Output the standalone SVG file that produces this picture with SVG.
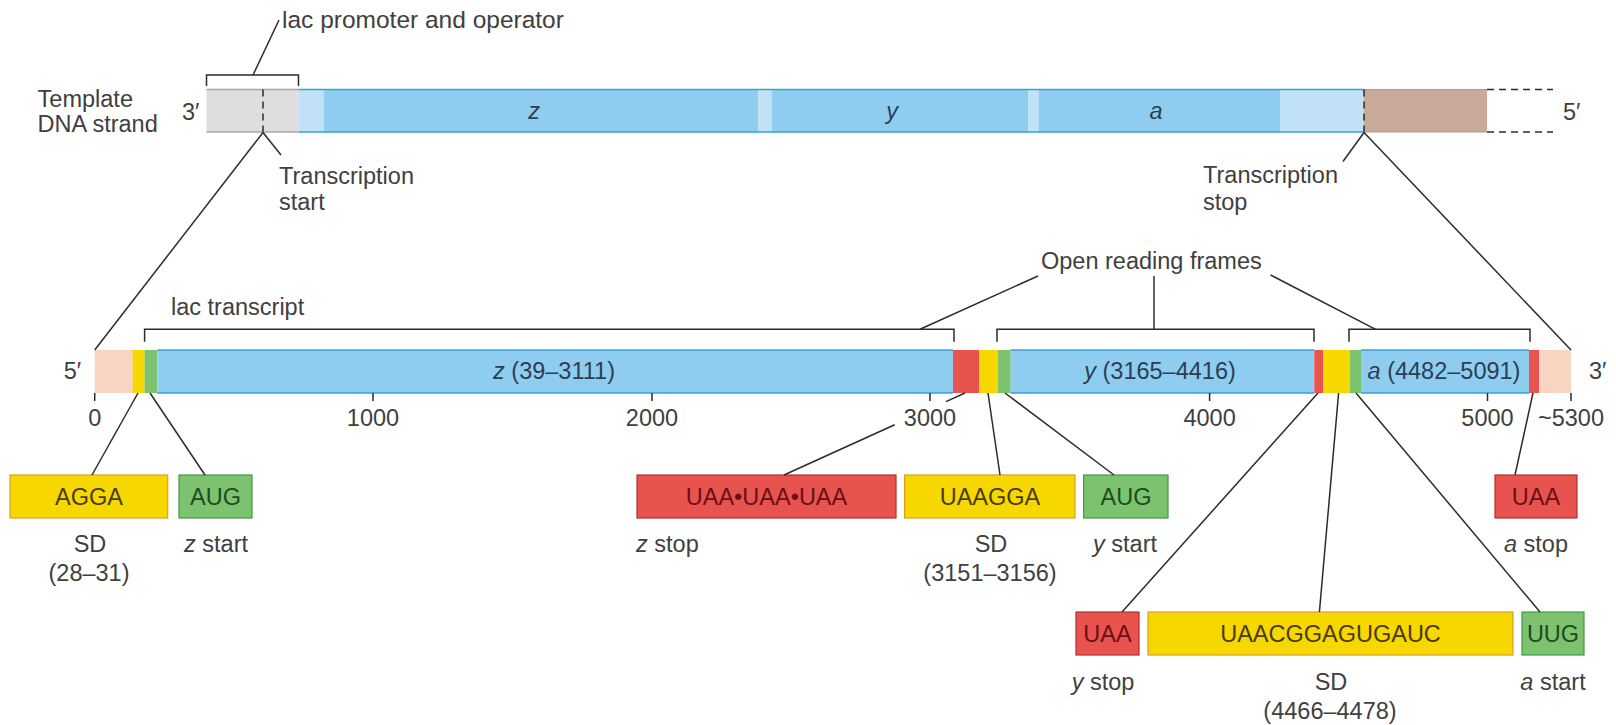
<svg xmlns="http://www.w3.org/2000/svg" width="1616" height="725" viewBox="0 0 1616 725">
<style>
text{font-family:"Liberation Sans",Arial,sans-serif;font-size:23.5px;fill:#404040}
.it{font-style:italic}
.c{text-anchor:middle}
.bl{fill:#2c3e50}
.ln{stroke:#2b2b2b;stroke-width:1.5;fill:none}
.dash{stroke:#2b2b2b;stroke-width:1.5;stroke-dasharray:7,5;fill:none}
.blue{fill:#8fcdf0}
.lblue{fill:#c0e1f6}
.gray{fill:#dedede}
.brown{fill:#c9a99a}
.peach{fill:#f9d4c0}
.yel{fill:#f6d800}
.grn{fill:#7dc36f}
.red{fill:#e85350}
.bb{stroke:#3a9fd6;stroke-width:1.5}
.ybox{fill:#f6d800;stroke:#d9a020;stroke-width:1.2}
.gbox{fill:#7dc36f;stroke:#3f9a44;stroke-width:1.2}
.rbox{fill:#e85350;stroke:#b03030;stroke-width:1.2}
.ty{fill:#4a3b05}
.tg{fill:#1e4a22}
.tr{fill:#6a1014}
</style>

<g id="dna-strand">
  <rect class="gray" x="206.5" y="89.5" width="92" height="42.5"/>
  <rect class="lblue" x="298.5" y="89.5" width="25" height="42.5"/>
  <rect class="blue" x="323.5" y="89.5" width="435" height="42.5"/>
  <rect class="lblue" x="758.5" y="89.5" width="13" height="42.5"/>
  <rect class="blue" x="771.5" y="89.5" width="257" height="42.5"/>
  <rect class="lblue" x="1028.5" y="89.5" width="10" height="42.5"/>
  <rect class="blue" x="1038.5" y="89.5" width="241.5" height="42.5"/>
  <rect class="lblue" x="1280" y="89.5" width="84" height="42.5"/>
  <rect class="brown" x="1364" y="89.5" width="123" height="42.5"/>
  <line x1="206.5" y1="89.5" x2="298.5" y2="89.5" stroke="#a8a8a8" stroke-width="1.5"/>
  <line x1="206.5" y1="132" x2="298.5" y2="132" stroke="#a8a8a8" stroke-width="1.5"/>
  <line class="bb" x1="298.5" y1="89.5" x2="1364" y2="89.5"/>
  <line class="bb" x1="298.5" y1="132" x2="1364" y2="132"/>
  <line x1="1364" y1="89.5" x2="1487" y2="89.5" stroke="#b89888" stroke-width="1.2"/>
  <line x1="1364" y1="132" x2="1487" y2="132" stroke="#b89888" stroke-width="1.2"/>
  <line class="dash" x1="1487" y1="89.5" x2="1553" y2="89.5"/>
  <line class="dash" x1="1487" y1="132" x2="1553" y2="132"/>
  <line class="dash" x1="263" y1="89.5" x2="263" y2="132" stroke-dasharray="6,4"/>
  <line class="dash" x1="1364" y1="89.5" x2="1364" y2="132" stroke-dasharray="6,4"/>
  <text class="it bl c" x="534" y="119">z</text>
  <text class="it bl c" x="892" y="119">y</text>
  <text class="it bl c" x="1156" y="119">a</text>
  <text x="182" y="120">3′</text>
  <text x="1563" y="120">5′</text>
  <text x="37.6" y="107">Template</text>
  <text x="37.6" y="132">DNA strand</text>
</g>

<g id="promoter-label">
  <path class="ln" d="M206.5,86 V75 H298.5 V86"/>
  <text x="282" y="28" style="font-size:24.5px">lac promoter and operator</text>
</g>

<g id="transcription-start">
  <text x="279" y="184">Transcription</text>
  <text x="279" y="210">start</text>
</g>

<g id="transcription-stop">
  <text x="1203" y="183">Transcription</text>
  <text x="1203" y="210">stop</text>
</g>

<g id="mrna">
  <rect class="peach" x="94.7" y="350" width="38" height="43"/>
  <rect class="yel" x="132.6" y="350" width="12" height="43"/>
  <rect class="grn" x="144.6" y="350" width="12.8" height="43"/>
  <rect class="blue" x="157.4" y="350" width="795.6" height="43"/>
  <rect class="red" x="953" y="350" width="26" height="43"/>
  <rect class="yel" x="979" y="350" width="19" height="43"/>
  <rect class="grn" x="998" y="350" width="12.7" height="43"/>
  <rect class="blue" x="1010.7" y="350" width="303.6" height="43"/>
  <rect class="red" x="1314.3" y="350" width="8.7" height="43"/>
  <rect class="yel" x="1323" y="350" width="27" height="43"/>
  <rect class="grn" x="1350" y="350" width="11" height="43"/>
  <rect class="blue" x="1361" y="350" width="168" height="43"/>
  <rect class="red" x="1529" y="350" width="10" height="43"/>
  <rect class="peach" x="1539" y="350" width="32" height="43"/>
  <line class="bb" x1="157.4" y1="350" x2="953" y2="350"/>
  <line class="bb" x1="157.4" y1="393" x2="953" y2="393"/>
  <line class="bb" x1="1010.7" y1="350" x2="1314.3" y2="350"/>
  <line class="bb" x1="1010.7" y1="393" x2="1314.3" y2="393"/>
  <line class="bb" x1="1361" y1="350" x2="1529" y2="350"/>
  <line class="bb" x1="1361" y1="393" x2="1529" y2="393"/>
  <text class="bl c" x="554" y="379"><tspan class="it">z</tspan> (39–3111)</text>
  <text class="bl c" x="1160" y="379"><tspan class="it">y</tspan> (3165–4416)</text>
  <text class="bl c" x="1444" y="379"><tspan class="it">a</tspan> (4482–5091)</text>
  <text x="63.7" y="379">5′</text>
  <text x="1589" y="379">3′</text>
</g>

<g id="scale">
  <path class="ln" d="M94.7,393V401 M373,393V401 M652,393V401 M930,393V401 M1209.6,393V401 M1487.5,393V401 M1571,393V401"/>
  <text class="c" x="94.7" y="426">0</text>
  <text class="c" x="373" y="426">1000</text>
  <text class="c" x="652" y="426">2000</text>
  <text class="c" x="930" y="426">3000</text>
  <text class="c" x="1209.6" y="426">4000</text>
  <text class="c" x="1487.5" y="426">5000</text>
  <text class="c" x="1571" y="426">~5300</text>
</g>

<g id="orf-brackets">
  <text x="171" y="315">lac transcript</text>
  <path class="ln" d="M144.6,341.7 V329.3 H954 V341.7"/>
  <path class="ln" d="M997,341.7 V329.3 H1314 V341.7"/>
  <path class="ln" d="M1349,341.7 V329.3 H1530 V341.7"/>
  <text x="1041" y="269">Open reading frames</text>
</g>

<g id="sd-z">
  <rect class="ybox" x="10" y="475" width="157.7" height="43"/>
  <text class="c ty" x="89" y="505">AGGA</text>
  <text class="c" x="90" y="552">SD</text>
  <text class="c" x="89" y="581">(28–31)</text>
</g>
<g id="z-start">
  <rect class="gbox" x="179" y="475" width="73" height="43"/>
  <text class="c tg" x="215.5" y="505">AUG</text>
  <text class="c" x="216" y="552"><tspan class="it">z</tspan> start</text>
</g>
<g id="z-stop">
  <rect class="rbox" x="637" y="475" width="259" height="43"/>
  <text class="c tr" x="766.5" y="505">UAA•UAA•UAA</text>
  <text x="636" y="552"><tspan class="it">z</tspan> stop</text>
</g>
<g id="sd-y">
  <rect class="ybox" x="904.6" y="475" width="170.4" height="43"/>
  <text class="c ty" x="990" y="505">UAAGGA</text>
  <text class="c" x="991" y="552">SD</text>
  <text class="c" x="990" y="581">(3151–3156)</text>
</g>
<g id="y-start">
  <rect class="gbox" x="1083.6" y="475" width="84.4" height="43"/>
  <text class="c tg" x="1126" y="505">AUG</text>
  <text class="c" x="1125" y="552"><tspan class="it">y</tspan> start</text>
</g>
<g id="a-stop">
  <rect class="rbox" x="1495" y="475" width="82" height="43"/>
  <text class="c tr" x="1536" y="505">UAA</text>
  <text class="c" x="1536" y="552"><tspan class="it">a</tspan> stop</text>
</g>
<g id="y-stop">
  <rect class="rbox" x="1076" y="612" width="63" height="43"/>
  <text class="c tr" x="1107.5" y="642">UAA</text>
  <text class="c" x="1103" y="690"><tspan class="it">y</tspan> stop</text>
</g>
<g id="sd-a">
  <rect class="ybox" x="1148" y="612" width="365" height="43"/>
  <text class="c ty" x="1330.5" y="642">UAACGGAGUGAUC</text>
  <text class="c" x="1331" y="690">SD</text>
  <text class="c" x="1330" y="719">(4466–4478)</text>
</g>
<g id="a-start">
  <rect class="gbox" x="1522" y="612" width="62" height="43"/>
  <text class="c tg" x="1553" y="642">UUG</text>
  <text class="c" x="1553" y="690"><tspan class="it">a</tspan> start</text>
</g>

<g id="connectors" class="ln">
  <line x1="253" y1="75" x2="279" y2="20"/>
  <line x1="263" y1="132.5" x2="281" y2="155"/>
  <line x1="1364" y1="132.5" x2="1343" y2="161.5"/>
  <line x1="263" y1="132.5" x2="94.7" y2="350"/>
  <line x1="1364" y1="132.5" x2="1571" y2="350"/>
  <line x1="920" y1="329.3" x2="1038" y2="276"/>
  <line x1="1154" y1="276" x2="1154" y2="329.3"/>
  <line x1="1270.6" y1="275" x2="1375.6" y2="329.3"/>
  <line x1="138" y1="393" x2="92" y2="475"/>
  <line x1="150" y1="393" x2="205" y2="475"/>
  <line x1="965" y1="393" x2="946" y2="401.6"/>
  <line x1="894.7" y1="424.8" x2="784" y2="475"/>
  <line x1="988" y1="393" x2="1000" y2="475"/>
  <line x1="1005" y1="393" x2="1114" y2="475"/>
  <line x1="1533" y1="393" x2="1515" y2="475"/>
  <line x1="1318" y1="393" x2="1122" y2="612"/>
  <line x1="1338.6" y1="393" x2="1319.4" y2="612"/>
  <line x1="1356" y1="393" x2="1540" y2="612"/>
</g>
</svg>
